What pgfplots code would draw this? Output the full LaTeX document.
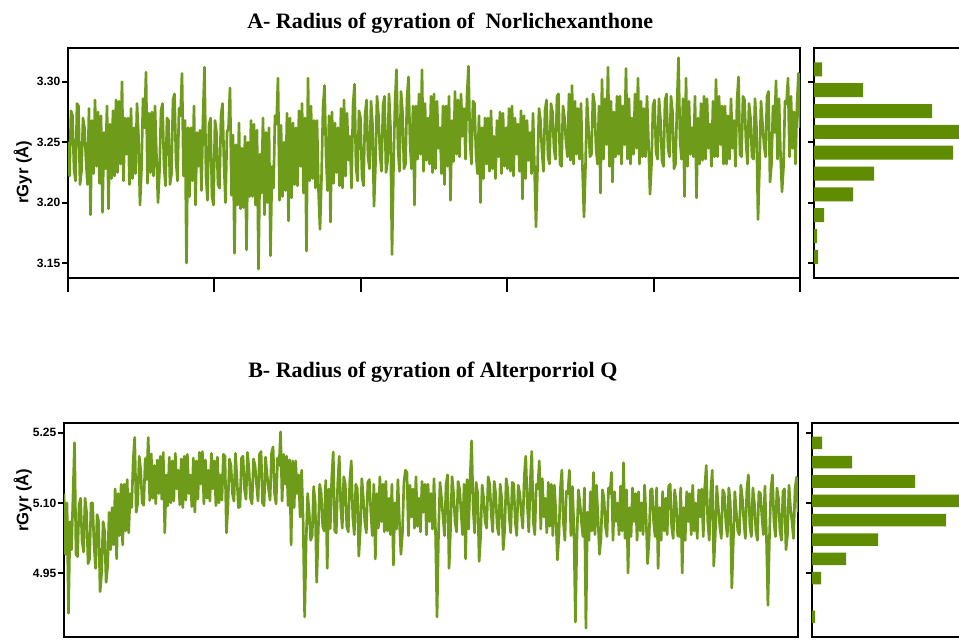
\documentclass[border=0pt]{standalone}
\usepackage{pgfplots}
\pgfplotsset{compat=1.18}
\usepackage{pgfplotstable}
\usepackage{fontspec}
\setmainfont{Liberation Serif}
\newfontfamily\arial{Liberation Sans}
\definecolor{lgreen}{RGB}{110,155,25}
\definecolor{bgreen}{RGB}{95,140,0}

\pgfplotstableread[row sep=\\]{
y\\
3.250\\ 3.222\\ 3.276\\ 3.272\\
3.228\\ 3.218\\ 3.282\\ 3.280\\
3.215\\ 3.226\\ 3.270\\ 3.262\\
3.235\\ 3.215\\ 3.278\\ 3.190\\
3.268\\ 3.224\\ 3.285\\ 3.230\\
3.275\\ 3.216\\ 3.272\\ 3.192\\
3.258\\ 3.228\\ 3.280\\ 3.195\\
3.265\\ 3.220\\ 3.276\\ 3.222\\
3.285\\ 3.225\\ 3.284\\ 3.232\\
3.300\\ 3.218\\ 3.270\\ 3.240\\
3.270\\ 3.215\\ 3.278\\ 3.220\\
3.262\\ 3.224\\ 3.282\\ 3.255\\
3.198\\ 3.228\\ 3.286\\ 3.262\\
3.308\\ 3.216\\ 3.274\\ 3.225\\
3.275\\ 3.222\\ 3.280\\ 3.238\\
3.200\\ 3.226\\ 3.276\\ 3.282\\
3.230\\ 3.214\\ 3.270\\ 3.268\\
3.215\\ 3.224\\ 3.285\\ 3.290\\
3.235\\ 3.218\\ 3.278\\ 3.272\\
3.307\\ 3.222\\ 3.268\\ 3.150\\
3.262\\ 3.205\\ 3.262\\ 3.218\\
3.280\\ 3.198\\ 3.258\\ 3.230\\
3.260\\ 3.210\\ 3.270\\ 3.312\\
3.222\\ 3.202\\ 3.264\\ 3.270\\
3.205\\ 3.198\\ 3.268\\ 3.258\\
3.215\\ 3.212\\ 3.272\\ 3.282\\
3.232\\ 3.200\\ 3.258\\ 3.262\\
3.295\\ 3.206\\ 3.256\\ 3.158\\
3.248\\ 3.198\\ 3.266\\ 3.195\\
3.245\\ 3.196\\ 3.255\\ 3.161\\
3.250\\ 3.205\\ 3.268\\ 3.205\\
3.265\\ 3.198\\ 3.260\\ 3.145\\
3.240\\ 3.208\\ 3.270\\ 3.190\\
3.258\\ 3.200\\ 3.262\\ 3.156\\
3.230\\ 3.212\\ 3.272\\ 3.265\\
3.303\\ 3.202\\ 3.264\\ 3.205\\
3.250\\ 3.210\\ 3.274\\ 3.185\\
3.270\\ 3.204\\ 3.266\\ 3.215\\
3.262\\ 3.214\\ 3.276\\ 3.230\\
3.282\\ 3.208\\ 3.270\\ 3.160\\
3.303\\ 3.218\\ 3.280\\ 3.220\\
3.268\\ 3.212\\ 3.268\\ 3.210\\
3.178\\ 3.220\\ 3.278\\ 3.297\\
3.240\\ 3.210\\ 3.272\\ 3.184\\
3.275\\ 3.216\\ 3.266\\ 3.225\\
3.262\\ 3.214\\ 3.278\\ 3.212\\
3.285\\ 3.222\\ 3.274\\ 3.235\\
3.255\\ 3.212\\ 3.280\\ 3.298\\
3.230\\ 3.218\\ 3.276\\ 3.270\\
3.222\\ 3.214\\ 3.272\\ 3.285\\
3.238\\ 3.228\\ 3.284\\ 3.265\\
3.197\\ 3.232\\ 3.288\\ 3.272\\
3.240\\ 3.226\\ 3.280\\ 3.288\\
3.225\\ 3.234\\ 3.290\\ 3.262\\
3.157\\ 3.230\\ 3.282\\ 3.310\\
3.245\\ 3.226\\ 3.292\\ 3.275\\
3.228\\ 3.232\\ 3.286\\ 3.304\\
3.250\\ 3.228\\ 3.280\\ 3.198\\
3.280\\ 3.236\\ 3.290\\ 3.240\\
3.310\\ 3.226\\ 3.282\\ 3.235\\
3.270\\ 3.232\\ 3.288\\ 3.225\\
3.290\\ 3.228\\ 3.284\\ 3.245\\
3.262\\ 3.224\\ 3.280\\ 3.215\\
3.280\\ 3.230\\ 3.288\\ 3.202\\
3.268\\ 3.234\\ 3.292\\ 3.240\\
3.285\\ 3.238\\ 3.290\\ 3.255\\
3.278\\ 3.236\\ 3.288\\ 3.313\\
3.250\\ 3.232\\ 3.284\\ 3.282\\
3.240\\ 3.224\\ 3.272\\ 3.200\\
3.262\\ 3.220\\ 3.270\\ 3.232\\
3.270\\ 3.226\\ 3.276\\ 3.228\\
3.255\\ 3.220\\ 3.268\\ 3.238\\
3.275\\ 3.224\\ 3.274\\ 3.230\\
3.262\\ 3.228\\ 3.278\\ 3.226\\
3.280\\ 3.222\\ 3.270\\ 3.240\\
3.265\\ 3.226\\ 3.276\\ 3.203\\
3.272\\ 3.220\\ 3.268\\ 3.235\\
3.258\\ 3.224\\ 3.274\\ 3.228\\
3.180\\ 3.228\\ 3.278\\ 3.268\\
3.242\\ 3.226\\ 3.276\\ 3.285\\
3.238\\ 3.232\\ 3.282\\ 3.275\\
3.245\\ 3.236\\ 3.288\\ 3.290\\
3.232\\ 3.230\\ 3.280\\ 3.270\\
3.250\\ 3.238\\ 3.290\\ 3.235\\
3.297\\ 3.232\\ 3.284\\ 3.240\\
3.278\\ 3.236\\ 3.282\\ 3.228\\
3.188\\ 3.230\\ 3.286\\ 3.262\\
3.238\\ 3.240\\ 3.290\\ 3.282\\
3.245\\ 3.232\\ 3.280\\ 3.208\\
3.302\\ 3.236\\ 3.286\\ 3.248\\
3.312\\ 3.230\\ 3.284\\ 3.217\\
3.275\\ 3.238\\ 3.288\\ 3.240\\
3.288\\ 3.232\\ 3.280\\ 3.248\\
3.311\\ 3.236\\ 3.286\\ 3.232\\
3.270\\ 3.240\\ 3.290\\ 3.245\\
3.303\\ 3.232\\ 3.284\\ 3.238\\
3.278\\ 3.238\\ 3.288\\ 3.250\\
3.207\\ 3.232\\ 3.280\\ 3.285\\
3.242\\ 3.236\\ 3.286\\ 3.268\\
3.235\\ 3.230\\ 3.284\\ 3.290\\
3.245\\ 3.238\\ 3.288\\ 3.275\\
3.228\\ 3.232\\ 3.280\\ 3.320\\
3.252\\ 3.236\\ 3.286\\ 3.205\\
3.303\\ 3.230\\ 3.284\\ 3.240\\
3.262\\ 3.238\\ 3.288\\ 3.204\\
3.270\\ 3.232\\ 3.282\\ 3.235\\
3.288\\ 3.236\\ 3.286\\ 3.245\\
3.265\\ 3.230\\ 3.284\\ 3.238\\
3.302\\ 3.238\\ 3.288\\ 3.248\\
3.280\\ 3.232\\ 3.280\\ 3.232\\
3.272\\ 3.236\\ 3.286\\ 3.245\\
3.268\\ 3.230\\ 3.284\\ 3.304\\
3.240\\ 3.238\\ 3.288\\ 3.285\\
3.250\\ 3.232\\ 3.282\\ 3.270\\
3.238\\ 3.236\\ 3.286\\ 3.262\\
3.186\\ 3.230\\ 3.284\\ 3.265\\
3.248\\ 3.238\\ 3.288\\ 3.292\\
3.217\\ 3.232\\ 3.280\\ 3.258\\
3.301\\ 3.236\\ 3.286\\ 3.240\\
3.209\\ 3.230\\ 3.284\\ 3.282\\
3.303\\ 3.238\\ 3.288\\ 3.245\\
3.275\\ 3.232\\ 3.282\\ 3.307\\
3.262\\
}\tabA

\pgfplotstableread[row sep=\\]{
y\\
5.120\\ 4.990\\ 5.100\\ 4.864\\
5.060\\ 5.000\\ 5.115\\ 5.229\\
4.990\\ 4.985\\ 5.095\\ 5.110\\
5.020\\ 4.995\\ 5.110\\ 5.080\\
4.970\\ 4.980\\ 5.100\\ 5.100\\
5.010\\ 4.960\\ 5.075\\ 5.060\\
4.910\\ 4.950\\ 5.060\\ 5.040\\
4.930\\ 4.965\\ 5.080\\ 5.000\\
5.090\\ 5.010\\ 5.130\\ 4.980\\
5.120\\ 5.030\\ 5.140\\ 5.010\\
5.140\\ 5.040\\ 5.150\\ 5.036\\
5.120\\ 5.090\\ 5.190\\ 5.240\\
5.080\\ 5.100\\ 5.200\\ 5.170\\
5.100\\ 5.095\\ 5.195\\ 5.150\\
5.240\\ 5.105\\ 5.205\\ 5.110\\
5.180\\ 5.098\\ 5.192\\ 5.120\\
5.200\\ 5.108\\ 5.208\\ 5.036\\
5.160\\ 5.094\\ 5.198\\ 5.100\\
5.190\\ 5.104\\ 5.206\\ 5.130\\
5.170\\ 5.096\\ 5.194\\ 5.090\\
5.200\\ 5.106\\ 5.204\\ 5.120\\
5.160\\ 5.092\\ 5.196\\ 5.080\\
5.190\\ 5.108\\ 5.208\\ 5.140\\
5.210\\ 5.098\\ 5.192\\ 5.110\\
5.170\\ 5.104\\ 5.206\\ 5.130\\
5.190\\ 5.094\\ 5.198\\ 5.100\\
5.160\\ 5.106\\ 5.204\\ 5.200\\
5.036\\ 5.096\\ 5.194\\ 5.180\\
5.120\\ 5.104\\ 5.206\\ 5.150\\
5.090\\ 5.092\\ 5.196\\ 5.200\\
5.130\\ 5.108\\ 5.208\\ 5.170\\
5.110\\ 5.098\\ 5.194\\ 5.180\\
5.140\\ 5.104\\ 5.204\\ 5.210\\
5.100\\ 5.094\\ 5.198\\ 5.160\\
5.130\\ 5.106\\ 5.206\\ 5.220\\
5.120\\ 5.098\\ 5.196\\ 5.180\\
5.252\\ 5.104\\ 5.204\\ 5.140\\
5.200\\ 5.094\\ 5.192\\ 5.010\\
5.190\\ 5.090\\ 5.190\\ 5.120\\
5.160\\ 5.070\\ 5.170\\ 5.060\\
4.856\\ 5.020\\ 5.120\\ 5.080\\
5.020\\ 5.030\\ 5.135\\ 5.100\\
4.930\\ 5.035\\ 5.140\\ 5.120\\
5.050\\ 5.040\\ 5.148\\ 4.960\\
5.130\\ 5.045\\ 5.152\\ 5.209\\
5.040\\ 5.036\\ 5.142\\ 5.200\\
5.090\\ 5.046\\ 5.156\\ 5.140\\
5.050\\ 5.038\\ 5.146\\ 5.190\\
5.070\\ 5.032\\ 5.140\\ 5.130\\
4.986\\ 5.044\\ 5.152\\ 5.110\\
5.060\\ 5.036\\ 5.144\\ 5.150\\
5.080\\ 5.030\\ 5.140\\ 4.980\\
5.120\\ 5.046\\ 5.156\\ 5.060\\
5.140\\ 5.038\\ 5.146\\ 5.040\\
5.110\\ 5.032\\ 5.140\\ 4.967\\
5.100\\ 5.044\\ 5.150\\ 5.060\\
4.990\\ 5.036\\ 5.144\\ 5.170\\
5.165\\ 5.030\\ 5.138\\ 5.070\\
5.130\\ 5.046\\ 5.156\\ 5.050\\
5.110\\ 5.038\\ 5.146\\ 5.080\\
5.140\\ 5.032\\ 5.140\\ 5.060\\
5.120\\ 5.044\\ 5.152\\ 5.040\\
4.856\\ 5.036\\ 5.144\\ 5.110\\
5.070\\ 5.030\\ 5.138\\ 5.160\\
4.960\\ 5.046\\ 5.156\\ 5.120\\
5.060\\ 5.038\\ 5.146\\ 5.130\\
5.080\\ 5.032\\ 5.140\\ 4.980\\
5.150\\ 5.044\\ 5.152\\ 5.233\\
5.090\\ 5.036\\ 5.144\\ 5.120\\
4.975\\ 5.030\\ 5.138\\ 5.110\\
5.060\\ 5.046\\ 5.156\\ 5.140\\
5.080\\ 5.038\\ 5.146\\ 5.120\\
5.050\\ 5.032\\ 5.140\\ 5.110\\
5.000\\ 5.044\\ 5.152\\ 5.130\\
5.070\\ 5.036\\ 5.144\\ 5.140\\
5.060\\ 5.030\\ 5.138\\ 5.120\\
5.080\\ 5.046\\ 5.156\\ 5.200\\
5.100\\ 5.038\\ 5.146\\ 5.210\\
5.060\\ 5.032\\ 5.140\\ 5.130\\
5.190\\ 5.044\\ 5.152\\ 5.070\\
5.110\\ 5.036\\ 5.144\\ 5.050\\
5.140\\ 5.030\\ 5.138\\ 5.080\\
4.978\\ 5.026\\ 5.130\\ 5.170\\
5.060\\ 5.020\\ 5.125\\ 5.120\\
5.170\\ 5.030\\ 5.135\\ 5.050\\
4.845\\ 5.022\\ 5.128\\ 5.100\\
5.060\\ 5.028\\ 5.132\\ 4.832\\
5.080\\ 5.020\\ 5.124\\ 5.040\\
5.165\\ 5.032\\ 5.138\\ 5.070\\
4.990\\ 5.024\\ 5.128\\ 5.110\\
5.050\\ 5.028\\ 5.132\\ 5.120\\
5.165\\ 5.020\\ 5.124\\ 5.060\\
5.100\\ 5.032\\ 5.136\\ 5.040\\
5.186\\ 5.024\\ 5.128\\ 4.950\\
5.090\\ 5.028\\ 5.132\\ 5.060\\
5.120\\ 5.020\\ 5.124\\ 5.040\\
5.100\\ 5.032\\ 5.138\\ 5.070\\
4.970\\ 5.024\\ 5.128\\ 5.130\\
5.060\\ 5.028\\ 5.132\\ 4.960\\
5.090\\ 5.020\\ 5.124\\ 5.040\\
5.110\\ 5.032\\ 5.136\\ 5.140\\
5.050\\ 5.024\\ 5.128\\ 5.100\\
5.030\\ 5.028\\ 5.132\\ 4.950\\
5.090\\ 5.020\\ 5.124\\ 5.060\\
5.120\\ 5.032\\ 5.138\\ 5.040\\
5.100\\ 5.024\\ 5.128\\ 5.070\\
5.130\\ 5.028\\ 5.132\\ 5.180\\
5.060\\ 5.020\\ 5.124\\ 5.170\\
4.965\\ 5.032\\ 5.136\\ 5.090\\
5.050\\ 5.024\\ 5.128\\ 5.120\\
5.060\\ 5.028\\ 5.132\\ 5.100\\
4.918\\ 5.020\\ 5.124\\ 5.080\\
5.040\\ 5.032\\ 5.138\\ 5.110\\
5.060\\ 5.024\\ 5.128\\ 5.160\\
5.050\\ 5.028\\ 5.132\\ 5.100\\
5.040\\ 5.020\\ 5.124\\ 5.120\\
5.070\\ 5.032\\ 5.136\\ 5.030\\
4.881\\ 5.024\\ 5.128\\ 5.160\\
5.060\\ 5.028\\ 5.132\\ 5.110\\
5.040\\ 5.020\\ 5.124\\ 5.130\\
5.000\\ 5.032\\ 5.138\\ 5.090\\
5.060\\ 5.024\\ 5.128\\ 5.155\\
5.080\\
}\tabB

\pgfplotsset{
  panel/.style={
    anchor=south west, scale only axis,
    tick align=outside, major tick length=4.5pt,
    axis line style={line width=2pt},
    tick style={line width=1.6pt, black},
    xtick=\empty, ytick pos=left, scaled y ticks=false,
    yticklabel style={font=\arial\bfseries\fontsize{9}{10}\selectfont, xshift=2.2pt,
      /pgf/number format/fixed, /pgf/number format/fixed zerofill,
      /pgf/number format/precision=2, /pgf/number format/assume math mode=true},
  },
  hist/.style={panel, yticklabels={}, xmin=0},
  xtickax/.style={
    anchor=south west, scale only axis,
    ymin=0, ymax=1, axis x line*=bottom, axis y line=none,
    axis line style={draw=none}, xticklabels={},
    tick align=outside, major tick length=10.5pt,
    tick style={line width=1.6pt, black},
  },
}

\begin{document}
\begin{tikzpicture}
\useasboundingbox (0,0) rectangle (719.25pt,-479.25pt);
\clip (0,0) rectangle (719.25pt,-479.25pt);

% ---------- Panel A ----------
\begin{axis}[panel, at={(51pt,-208.5pt)}, width=549pt, height=172.5pt,
  xmin=0, xmax=244, ymin=3.1376, ymax=3.328,
  ytick={3.15,3.20,3.25,3.30}]
\addplot[lgreen, line width=2pt, line join=round] table[x expr=\coordindex/2, y=y] {\tabA};
\end{axis}
\begin{axis}[xtickax, at={(51pt,-208.5pt)}, width=549pt, height=172.5pt,
  xmin=0, xmax=244, xtick={0,48.8,97.6,146.4,195.2,244}]
\addplot[draw=none] coordinates {(0,0)};
\end{axis}
\begin{axis}[hist, at={(610.5pt,-208.5pt)}, width=117pt, height=172.5pt,
  xmax=156, ymin=3.1376, ymax=3.328, ytick={3.15,3.20,3.25,3.30}]
\addplot[xbar, fill=bgreen, draw=none, bar width=0.0116] coordinates {
(8,3.3103) (49,3.2931) (118,3.2758) (150,3.2586) (139,3.2413)
(60,3.2241) (39,3.2068) (10,3.1896) (3,3.1723) (4,3.1551)};
\end{axis}

% ---------- Panel B ----------
\begin{axis}[panel, at={(48pt,-477.75pt)}, width=550.5pt, height=160.5pt,
  xmin=0, xmax=244, ymin=4.813, ymax=5.271,
  ytick={4.95,5.10,5.25}]
\addplot[lgreen, line width=2pt, line join=round] table[x expr=\coordindex/2, y=y] {\tabB};
\end{axis}
\begin{axis}[hist, at={(609pt,-477.75pt)}, width=118.5pt, height=160.5pt,
  xmax=158, ymin=4.813, ymax=5.271, ytick={4.95,5.10,5.25}]
\addplot[xbar, fill=bgreen, draw=none, bar width=0.0268] coordinates {
(10,5.2286) (40,5.1872) (103,5.1458) (150,5.1044) (134,5.0630)
(66,5.0216) (34,4.9802) (9,4.9388) (3,4.8560)};
\end{axis}

% ---------- Titles and labels ----------
\node[anchor=base west, inner sep=0, font=\bfseries\fontsize{16.5}{19}\selectfont]
  at (185.25pt,-21pt) {A- Radius of gyration of\ \ Norlichexanthone};
\node[anchor=base west, inner sep=0, font=\bfseries\fontsize{16.5}{19}\selectfont]
  at (186pt,-282.75pt) {B- Radius of gyration of Alterporriol Q};
\node[rotate=90, inner sep=0, font=\arial\bfseries\fontsize{12.5}{15}\selectfont]
  at (17pt,-129pt) {rGyr (Å)};
\node[rotate=90, inner sep=0, font=\arial\bfseries\fontsize{12.5}{15}\selectfont]
  at (17pt,-375pt) {rGyr (Å)};
\end{tikzpicture}
\end{document}
